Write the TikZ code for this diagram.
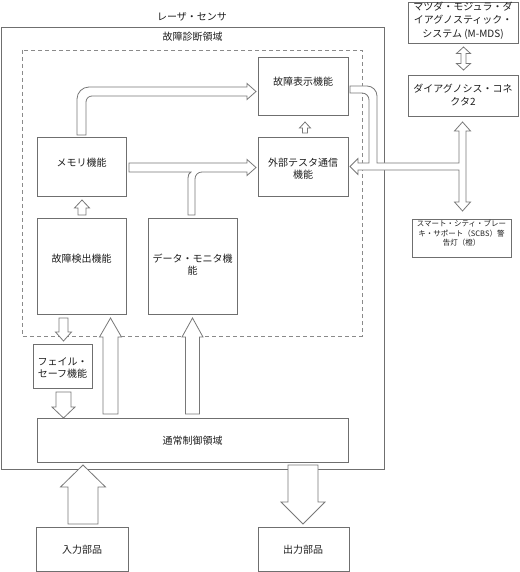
\documentclass[tikz,border=0pt]{standalone}
\usepackage{fontspec}
\setmainfont{Noto Sans CJK JP}
\definecolor{linegray}{HTML}{6F6F6F}
\definecolor{arrgray}{HTML}{787878}
\definecolor{dashgray}{HTML}{8A8A8A}
\definecolor{textcol}{HTML}{1E1E1E}
\tikzset{
  box/.style={draw=linegray, line width=0.8pt, inner sep=0pt, fill=white},
  txt/.style={text=textcol, font=\fontsize{10}{12}\selectfont, align=center, inner sep=0pt},
  smalltxt/.style={text=textcol, font=\fontsize{7.5}{9.5}\selectfont, align=center, inner sep=0pt},
  barrow/.style={draw=arrgray, line width=0.8pt, fill=white, line join=miter},
}
\newcommand\arrU[6]{\draw[barrow] (#1-#4,#2) -- (#1-#4,#3+#6) -- (#1-#5,#3+#6) -- (#1,#3) -- (#1+#5,#3+#6) -- (#1+#4,#3+#6) -- (#1+#4,#2) -- cycle;}
\newcommand\arrD[6]{\draw[barrow] (#1-#4,#2) -- (#1-#4,#3-#6) -- (#1-#5,#3-#6) -- (#1,#3) -- (#1+#5,#3-#6) -- (#1+#4,#3-#6) -- (#1+#4,#2) -- cycle;}
\begin{document}
\begin{tikzpicture}[x=1pt,y=-1pt]
\useasboundingbox[fill=white] (0,0) rectangle (519,572);
% outer and dashed regions
\draw[draw=linegray, line width=0.8pt] (1,27) rectangle (384,469);
\draw[draw=dashgray, line width=0.8pt, dash pattern=on 4pt off 3pt] (22,50) rectangle (362,336);
% boxes
\node[box, minimum width=90pt, minimum height=58pt] (disp) at (303,86) {};
\node[box, minimum width=90pt, minimum height=59pt] (ext) at (303,166.5) {};
\node[box, minimum width=89pt, minimum height=59pt] (mem) at (81.5,166.5) {};
\node[box, minimum width=89pt, minimum height=96pt] (det) at (81.5,266) {};
\node[box, minimum width=89pt, minimum height=96pt] (mon) at (192.5,266) {};
\node[box, minimum width=59pt, minimum height=44pt] (fs) at (62.5,366) {};
\node[box, minimum width=311pt, minimum height=44pt] (norm) at (192.5,440) {};
\node[box, minimum width=92pt, minimum height=44pt] (inp) at (82,549) {};
\node[box, minimum width=91pt, minimum height=44pt] (outp) at (303.5,549) {};
\node[box, minimum width=110pt, minimum height=41pt] (mmds) at (463,22.5) {};
\node[box, minimum width=110pt, minimum height=41pt] (conn) at (463,95.5) {};
\node[box, minimum width=99pt, minimum height=38pt] (scbs) at (461.5,238) {};
% straight block arrows
\arrU{82}{215}{200}{4}{7.5}{8}
\arrU{305}{133}{122}{2.5}{5.5}{6}
\arrD{63.5}{318}{341}{4.5}{8}{9}
\arrD{63.5}{392}{418}{7.5}{11.5}{11}
\arrU{110.5}{414}{318}{7.5}{11}{19}
\arrU{192.5}{414}{318}{7}{10.5}{19}
\arrU{83}{524}{465}{15}{22.5}{22}
\arrD{303}{465}{524}{15}{22}{22}
% double arrow M-MDS <-> connector
\draw[barrow] (463.5,47) -- (470.5,53.5) -- (466,53.5) -- (466,63.5) -- (470.5,63.5) -- (463.5,70)
  -- (456.5,63.5) -- (461,63.5) -- (461,53.5) -- (456.5,53.5) -- cycle;
% memory -> fault display (bent)
\draw[barrow] (77,135) -- (77,99) .. controls (77,92.4) and (82.4,87) .. (89,87) -- (247,87)
  -- (247,83.5) -- (256,91.5) -- (247,99.5) -- (247,96) -- (92,96)
  .. controls (88.7,96) and (86,98.7) .. (86,102) -- (86,135) -- cycle;
% memory -> external tester, with branch from data monitor
\draw[barrow] (129,163) -- (247,163) -- (247,159.5) -- (256,167.5) -- (247,175.5) -- (247,172)
  -- (202,172) .. controls (198,172) and (195,175) .. (195,179) -- (195,215) -- (188,215)
  -- (188,178) .. controls (188,175) and (189,173) .. (191,172) -- (129,172) -- cycle;
% connector system: vertical double arrow, branch to external tester, merge from fault display
\draw[barrow] (462.5,122) -- (470.5,131) -- (466,131) -- (466,202) -- (470.5,202) -- (462.5,211)
  -- (454.5,202) -- (459,202) -- (459,170) -- (358,170) -- (358,174.5) -- (350,166.5)
  -- (358,158.5) -- (358,163) -- (369,163) -- (369,100)
  .. controls (369,96.1) and (365.9,93) .. (362,93) -- (350,93) -- (350,86) -- (367,86)
  .. controls (372.5,86) and (377,90.5) .. (377,96) -- (377,163) -- (459,163)
  -- (459,131) -- (454.5,131) -- cycle;
% texts
\node[txt] (t1) at (192,17) {レーザ・センサ};
\node[txt] (t2) at (192.5,37) {故障診断領域};
\node[txt] at (303,82) {故障表示機能};
\node[txt] at (303,169) {外部テスタ通信\\機能};
\node[txt] at (81.5,163) {メモリ機能};
\node[txt] at (81.5,259) {故障検出機能};
\node[txt] at (192.5,265) {データ・モニタ機\\能};
\node[txt] at (62.5,367.5) {フェイル・\\セーフ機能};
\node[txt] at (192.5,441) {通常制御領域};
\node[txt] at (82,550) {入力部品};
\node[txt] at (303,550) {出力部品};
\node[txt, font=\fontsize{10}{13.5}\selectfont] at (463,20.5) {マツダ・モジュラ・ダ\\イアグノスティック・\\システム (M-MDS)};
\node[txt, font=\fontsize{10}{13}\selectfont] at (463,94.5) {ダイアグノシス・コネ\\クタ2};
\node[smalltxt] at (461.5,233.5) {スマート・シティ・ブレー\\キ・サポート（SCBS）警\\告灯（橙）};
\end{tikzpicture}
\end{document}
